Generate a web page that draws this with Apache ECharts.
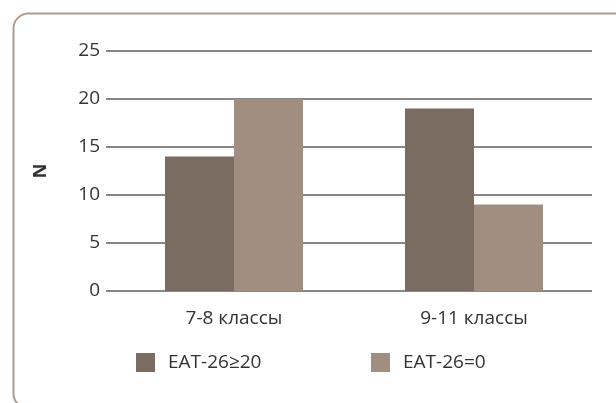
<!DOCTYPE html>
<html><head><meta charset="utf-8">
<script src="https://cdn.jsdelivr.net/npm/echarts@6/dist/echarts.min.js"></script>
<style>html,body{margin:0;padding:0;background:#fff}#c{width:616px;height:403px}</style>
</head><body><div id="c"></div>
<script>
const categories = ['7-8 классы', '9-11 классы'];
const seriesNames = ['EAT-26≥20', 'EAT-26=0'];
const highScore = [14, 19];
const zeroScore = [20, 9];
const yTicks = [0, 5, 10, 15, 20, 25];

const font = '"Open Sans", "Noto Sans", sans-serif';
const chart = echarts.init(document.getElementById('c'), null, {renderer: 'canvas'});
chart.setOption({
  animation: false,
  graphic: [{
    type: 'rect', left: 11, top: 11, silent: true,
    shape: {x: 0, y: 0, width: 660, height: 395, r: 15},
    style: {fill: 'none', stroke: '#ab9c8f', lineWidth: 2}
  }],
  grid: [
    {left: 106, width: 486, top: 51, height: 240},
    {left: 114, width: 480, top: 51, height: 240}
  ],
  xAxis: [
    {gridIndex: 0, type: 'category', data: categories, show: false},
    {gridIndex: 1, type: 'category', data: categories,
      axisLine: {show: false}, axisTick: {show: false},
      axisLabel: {color: '#333', fontSize: 19, fontFamily: font, margin: 18}}
  ],
  yAxis: [
    {gridIndex: 0, type: 'value', min: yTicks[0], max: yTicks[yTicks.length - 1], interval: 5,
      name: 'N', nameLocation: 'middle', nameRotate: 90, nameGap: 56,
      nameTextStyle: {fontWeight: 'bold', fontSize: 18, color: '#333', fontFamily: font},
      axisLine: {show: false}, axisTick: {show: false},
      axisLabel: {color: '#333', fontSize: 19, fontFamily: font, margin: 6},
      splitLine: {lineStyle: {color: '#5f5f5f', width: 1.5}}},
    {gridIndex: 1, type: 'value', min: yTicks[0], max: yTicks[yTicks.length - 1], interval: 5, show: false,
      splitLine: {show: false}}
  ],
  legend: [
    {data: [seriesNames[0]], left: 131, top: 348, itemWidth: 19, itemHeight: 19, itemGap: 0,
      icon: 'rect', textStyle: {fontSize: 19, color: '#333', fontFamily: font, padding: [0, 0, 0, 8]}},
    {data: [seriesNames[1]], left: 366, top: 348, itemWidth: 19, itemHeight: 19, itemGap: 0,
      icon: 'rect', textStyle: {fontSize: 19, color: '#333', fontFamily: font, padding: [0, 0, 0, 8]}}
  ],
  series: [
    {name: seriesNames[0], type: 'bar', xAxisIndex: 1, yAxisIndex: 1, data: highScore,
      barWidth: 69, barGap: '0%', itemStyle: {color: '#7a6c60'}},
    {name: seriesNames[1], type: 'bar', xAxisIndex: 1, yAxisIndex: 1, data: zeroScore,
      barWidth: 69, barGap: '0%', itemStyle: {color: '#a18e80'}}
  ]
});
</script></body></html>
